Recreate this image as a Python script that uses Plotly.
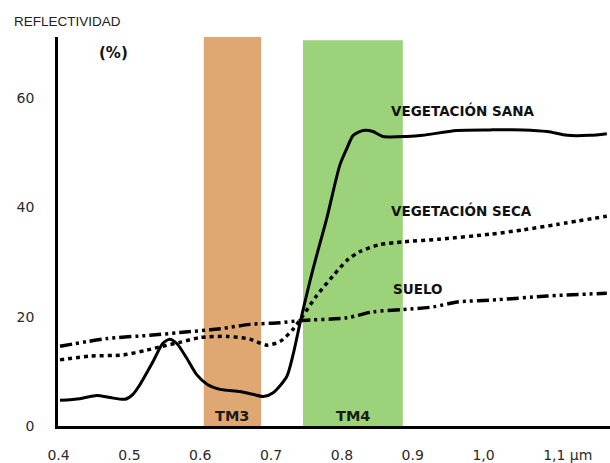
import plotly.graph_objects as go

# ---- data ----
sana_x = [0.402, 0.430, 0.454, 0.473, 0.494, 0.505, 0.515, 0.533, 0.547, 0.557, 0.567, 0.581,
          0.595, 0.610, 0.628, 0.656, 0.674, 0.689, 0.703, 0.722, 0.731, 0.741, 0.759, 0.779,
          0.797, 0.807, 0.816, 0.830, 0.844, 0.858, 0.892, 0.914, 0.962, 1.009, 1.056, 1.090,
          1.118, 1.150, 1.174]
sana_y = [4.7, 5.0, 5.6, 5.2, 4.9, 5.8, 7.6, 11.7, 15.1, 15.9, 15.1, 12.4,
          9.4, 7.6, 6.7, 6.3, 5.8, 5.4, 6.1, 9.0, 13.0, 18.9, 28.6, 38.2,
          47.7, 50.8, 53.2, 54.1, 53.9, 53.0, 53.0, 53.2, 54.1, 54.2, 54.2, 53.9,
          53.2, 53.2, 53.5]

seca_x = [0.402, 0.444, 0.491, 0.525, 0.547, 0.571, 0.600, 0.638, 0.670, 0.694, 0.713, 0.731,
          0.745, 0.764, 0.787, 0.807, 0.825, 0.853, 0.886, 0.938, 1.009, 1.056, 1.104, 1.174]
seca_y = [12.1, 12.8, 13.0, 13.9, 14.6, 15.3, 16.2, 16.4, 15.9, 14.8, 15.5, 17.7,
          20.2, 23.8, 27.4, 30.3, 31.9, 33.2, 33.7, 34.2, 35.1, 35.9, 36.9, 38.4]

suelo_x = [0.402, 0.468, 0.529, 0.571, 0.628, 0.670, 0.713, 0.741, 0.807, 0.844, 0.886, 0.929,
           0.963, 1.019, 1.090, 1.174]
suelo_y = [14.6, 16.0, 16.6, 17.1, 17.8, 18.6, 18.9, 19.3, 19.8, 20.9, 21.3, 21.8,
           22.7, 23.1, 23.8, 24.3]

bands = ["TM3", "TM4"]
band_x0 = [0.605, 0.745]
band_x1 = [0.686, 0.886]
band_top = [71.2, 70.6]
band_colors = ["#DFA872", "#9BD27A"]

x_tickvals = [0.4, 0.5, 0.6, 0.7, 0.8, 0.9, 1.0, 1.1]
x_ticktext = ["0.4", "0.5", "0.6", "0.7", "0.8", "0.9", "1,0", "\u2007\u2007\u20071,1 µm"]
y_tickvals = [0, 20, 40, 60]
y_ticktext = ["0", "20", "40", "60"]

series_labels = ["VEGETACIÓN SANA", "VEGETACIÓN SECA", "SUELO"]
label_x = [0.866, 0.866, 0.870]
label_y = [57.7, 39.5, 25.0]

FONT = "DejaVu Sans"

fig = go.Figure()

fig.add_trace(go.Scatter(x=sana_x, y=sana_y, mode="lines",
                         line=dict(color="black", width=3, shape="spline", smoothing=0.7)))
fig.add_trace(go.Scatter(x=seca_x, y=seca_y, mode="lines",
                         line=dict(color="black", width=3.5, dash="4px,4px", shape="spline", smoothing=0.7)))
fig.add_trace(go.Scatter(x=suelo_x, y=suelo_y, mode="lines",
                         line=dict(color="black", width=3.5, dash="12px,4px,3px,4px,3px,4px",
                                   shape="spline", smoothing=0.7)))

for name, x0, x1, top, col in zip(bands, band_x0, band_x1, band_top, band_colors):
    fig.add_shape(type="rect", xref="x", yref="y", x0=x0, x1=x1, y0=0, y1=top,
                  fillcolor=col, line=dict(width=0), layer="below")
    fig.add_annotation(x=(x0 + x1) / 2, y=1.8, xref="x", yref="y", text="<b>%s</b>" % name,
                       showarrow=False, font=dict(family=FONT, size=14.5, color="#1a1a1a"))

for txt, lx, ly in zip(series_labels, label_x, label_y):
    fig.add_annotation(x=lx, y=ly, xref="x", yref="y", text="<b>%s</b>" % txt, showarrow=False,
                       xanchor="left", font=dict(family=FONT, size=13.5, color="#111"))

fig.add_annotation(x=-0.083, y=1.0405, xref="paper", yref="paper", text="REFLECTIVIDAD",
                   showarrow=False, xanchor="left", yanchor="middle",
                   font=dict(family="Liberation Sans", size=13.5, color="#222"))
fig.add_annotation(x=(113 - 58) / 552, y=(432 - 53) / 395, xref="paper", yref="paper",
                   text="<b>(%)</b>", showarrow=False, xanchor="center", yanchor="middle",
                   font=dict(family=FONT, size=15, color="#111"))

fig.update_layout(
    width=610, height=463,
    margin=dict(l=58, r=0, t=37, b=31),
    paper_bgcolor="white", plot_bgcolor="white",
    showlegend=False,
    xaxis=dict(range=[0.3992, 1.1785], showline=True, linecolor="black", linewidth=2.5,
               showgrid=False, zeroline=False, tickvals=x_tickvals, ticktext=x_ticktext,
               ticks="", ticklabelstandoff=14,
               tickfont=dict(family=FONT, size=14, color="#2a2a2a")),
    yaxis=dict(range=[0, 71.2], showline=True, linecolor="black", linewidth=2.5,
               showgrid=False, zeroline=False, tickvals=y_tickvals, ticktext=y_ticktext,
               ticks="", ticklabelstandoff=18,
               tickfont=dict(family=FONT, size=14, color="#2a2a2a")),
)

fig.write_html("out.html")
